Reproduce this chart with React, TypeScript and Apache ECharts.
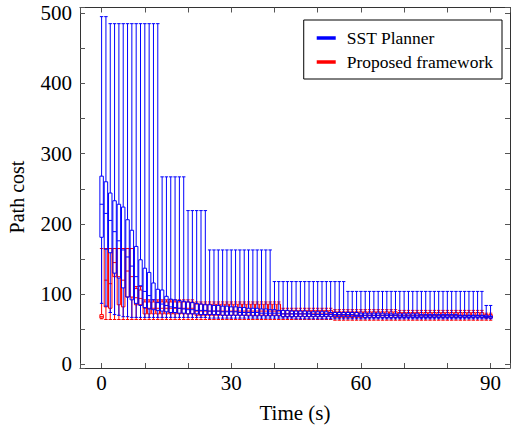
import React, { useEffect, useRef } from "react";
import * as echarts from "echarts";

const times = [
  0, 1, 2, 3, 4, 5, 6, 7, 8, 9, 10, 11, 12, 13, 14, 15, 16, 17, 18, 19, 20,
  21, 22, 23, 24, 25, 26, 27, 28, 29, 30, 31, 32, 33, 34, 35, 36, 37, 38, 39,
  40, 41, 42, 43, 44, 45, 46, 47, 48, 49, 50, 51, 52, 53, 54, 55, 56, 57, 58,
  59, 60, 61, 62, 63, 64, 65, 66, 67, 68, 69, 70, 71, 72, 73, 74, 75, 76, 77,
  78, 79, 80, 81, 82, 83, 84, 85, 86, 87, 88, 89, 90,
];

// SST Planner (blue)
const sstMax = [
  495, 495,
  485, 485, 485, 485, 485, 485, 485, 485, 485, 485, 485, 485,
  267, 267, 267, 267, 267, 267,
  219, 219, 219, 219, 219,
  163, 163, 163, 163, 163, 163, 163, 163, 163, 163, 163, 163, 163, 163, 163,
  118, 118, 118, 118, 118, 118, 118, 118, 118, 118, 118, 118, 118, 118, 118, 118, 118,
  104, 104, 104, 104, 104, 104, 104, 104, 104, 104, 104, 104, 104, 104, 104, 104,
  104, 104, 104, 104, 104, 104, 104, 104, 104, 104, 104, 104, 104, 104, 104, 104,
  84, 84,
];
const sstQ3 = [
  268, 260, 244, 233, 228, 224, 206, 191, 168, 149, 137, 131, 116, 107, 106,
  97, 93, 92, 91, 90, 89, 88, 87, 86, 85,
  85, 84, 84, 83, 83, 82, 82, 81, 81, 80, 80, 80, 79, 79, 78,
  78, 77, 77, 77, 76, 76, 76, 76, 75, 75, 75, 75, 75, 74, 74, 74, 74,
  74, 74, 74, 73, 73, 73, 73, 73, 73, 72, 72, 72, 72, 72, 72, 72, 72,
  71, 71, 71, 71, 71, 71, 71, 71, 71, 70, 70, 70, 70, 70, 70,
  70, 69,
];
const sstMedian = [
  228, 215, 205, 189, 176, 163, 153, 140, 125, 112, 104, 98, 92, 88, 86,
  84, 82, 81, 80, 79, 78, 78, 77, 77, 77,
  76, 76, 76, 75, 75, 75, 75, 74, 74, 74, 74, 74, 73, 73, 73,
  73, 73, 72, 72, 72, 72, 72, 72, 72, 71, 71, 71, 71, 71, 71, 71, 71,
  71, 71, 70, 70, 70, 70, 70, 70, 70, 70, 70, 70,
  69, 69, 69, 69, 69, 69, 69, 69, 69, 69, 69, 69, 69, 69, 69, 69, 69, 69, 69, 69,
  68, 68,
];
const sstQ1 = [
  181, 164, 159, 130, 123, 109, 96, 92, 87, 84, 81, 79, 78, 77, 76,
  75, 74, 74, 73, 73, 72, 72, 72, 71, 71,
  71, 71, 71, 70, 70, 70, 70, 70, 70, 69, 69, 69, 69, 69, 69,
  69, 69, 68, 68, 68, 68, 68, 68, 68, 68, 68, 68, 68, 68, 68, 68, 68,
  68, 68, 68, 68, 67, 67, 67, 67, 67, 67, 67, 67, 67, 67, 67, 67, 67, 67,
  67, 67, 67, 67, 67, 67, 67, 67, 67, 67, 67, 67, 67, 67,
  67, 66,
];
const sstMin = [
  87, 83, 74, 71, 70, 68, 68, 67, 67, 67, 67, 67, 67, 67, 67,
  67, 67, 67, 67, 67, 67, 67, 67, 67, 67,
  66, 66, 66, 66, 66, 66, 66, 66, 66, 66, 66, 66, 66, 66, 66,
  66, 66, 66, 66, 66, 65, 65, 65, 65, 65, 65, 65, 65, 65, 65, 65, 65,
  65, 65, 65, 65, 65, 65, 65, 65, 65, 65, 65, 65, 65, 65, 65, 65,
  65, 65, 65, 65, 65, 65, 65, 65, 65, 65, 65, 65, 65, 65, 65, 65,
  65, 65,
];

// Proposed framework (red)
const pfMax = [
  165, 165, 165, 165, 165, 165, 165, 165,
  111, 111,
  92, 92, 92, 92, 92, 92, 92, 92, 92, 92, 92, 92,
  89, 89, 89, 89, 89, 89, 89, 89, 89, 89, 89, 89, 89, 89, 89, 89, 89, 89, 89, 89,
  80, 80, 80, 80, 80, 80, 80, 80, 80, 80, 80, 80,
  78, 78, 78, 78, 78, 78, 78, 78, 78, 78, 78, 78, 78, 78, 78,
  77, 77, 77, 77, 77, 77, 77, 77, 77, 77, 77, 77, 77, 77, 77, 77, 77, 77, 77, 77,
  73, 73,
];
const pfQ3 = [
  71, 165, 165, 165, 165, 165, 165, 165,
  108, 106,
  89, 89, 89, 89, 89, 89, 89, 89, 89, 89, 89, 89,
  86, 86, 86, 86, 86, 86, 86, 86, 86, 86, 86, 86, 86, 86, 86, 86, 86, 86, 86, 86,
  77, 77, 77, 77, 77, 77, 77, 77, 77, 77, 77, 77,
  75, 75, 75, 75, 75, 75, 75, 75, 75, 75, 75, 75, 75, 75, 75,
  74, 74, 74, 74, 74, 74, 74, 74, 74, 74, 74, 74, 74, 74, 74, 74, 74, 74, 74, 74,
  71, 71,
];
const pfMedian = [
  68, 120, 115, 145, 125, 120, 133, 125,
  95, 94,
  80, 80, 80, 80, 80, 80, 80, 80, 80, 80, 80, 80,
  76, 76, 76, 76, 76, 76, 76, 76, 76, 76, 76, 76, 76, 76, 76, 76, 76, 76, 76, 76,
  72, 72, 72, 72, 72, 72, 72, 72, 72, 72, 72, 72,
  70, 70, 70, 70, 70, 70, 70, 70, 70, 70, 70, 70, 70, 70, 70,
  70, 70, 70, 70, 70, 70, 70, 70, 70, 70, 70, 70, 70, 70, 70, 70, 70, 70, 70, 70,
  68, 68,
];
const pfQ1 = [
  66, 82, 80, 125, 85, 82, 96, 96,
  85, 85,
  72, 72, 72, 72, 72, 72, 72, 72, 72, 72, 72, 72,
  70, 70, 70, 70, 70, 70, 70, 70, 70, 70, 70, 70, 70, 70, 70, 70, 70, 70, 70, 70,
  68, 68, 68, 68, 68, 68, 68, 68, 68, 68, 68, 68,
  67, 67, 67, 67, 67, 67, 67, 67, 67, 67, 67, 67, 67, 67, 67,
  67, 67, 67, 67, 67, 67, 67, 67, 67, 67, 67, 67, 67, 67, 67, 67, 67, 67, 67, 67,
  66, 66,
];
const pfMin = [
  65, 64, 64, 64, 64, 64, 64, 64,
  64, 64,
  64, 64, 64, 64, 64, 64, 64, 64, 64, 64, 64, 64,
  64, 64, 64, 64, 64, 64, 64, 64, 64, 64, 64, 64, 64, 64, 64, 64, 64, 64, 64, 64,
  64, 64, 64, 64, 64, 64, 64, 64, 64, 64, 64, 64,
  63, 63, 63, 63, 63, 63, 63, 63, 63, 63, 63, 63, 63, 63, 63,
  63, 63, 63, 63, 63, 63, 63, 63, 63, 63, 63, 63, 63, 63, 63, 63, 63, 63, 63, 63,
  63, 63,
];

const xTickLabels = [0, 30, 60, 90];
const yTickLabels = [0, 100, 200, 300, 400, 500];

const BLUE = "#0000ff";
const RED = "#ff0000";
const FONT = "'Liberation Serif', 'DejaVu Serif', 'Times New Roman', serif";
const BOX_W = 0.8;

function buildData(mn: number[], q1: number[], md: number[], q3: number[], mx: number[]) {
  return times.map((t, i) => [t, mn[i], q1[i], md[i], q3[i], mx[i]]);
}

function makeRenderItem(color: string) {
  return (params: any, api: any) => {
    const t = api.value(0);
    const pMin = api.coord([t, api.value(1)]);
    const pQ1 = api.coord([t, api.value(2)]);
    const pMed = api.coord([t, api.value(3)]);
    const pQ3 = api.coord([t, api.value(4)]);
    const pMax = api.coord([t, api.value(5)]);
    const half = api.size([BOX_W, 0])[0] / 2;
    const x = pMed[0];
    const style = { stroke: color, lineWidth: 1, fill: "none" };
    const ln = (x1: number, y1: number, x2: number, y2: number) => ({
      type: "line",
      shape: { x1, y1, x2, y2 },
      style,
    });
    return {
      type: "group",
      children: [
        ln(x, pMax[1], x, pQ3[1]),
        ln(x - half, pMax[1], x + half, pMax[1]),
        ln(x, pQ1[1], x, pMin[1]),
        ln(x - half, pMin[1], x + half, pMin[1]),
        {
          type: "rect",
          shape: { x: x - half, y: pQ3[1], width: 2 * half, height: pQ1[1] - pQ3[1] },
          style,
        },
        ln(x - half, pMed[1], x + half, pMed[1]),
      ],
    };
  };
}

export default function App() {
  const ref = useRef<HTMLDivElement>(null);
  useEffect(() => {
    if (!ref.current) return;
    const chart = echarts.init(ref.current, undefined, { renderer: "svg" });
    const axisLineStyle = { color: "#333", width: 1 };
    const tickStyle = { color: "#555", width: 1 };
    const xBase = {
      type: "value",
      min: -5,
      max: 94.5,
      splitNumber: 10,
      splitLine: { show: false },
      axisLine: { show: true, onZero: false, lineStyle: axisLineStyle },
      axisTick: { show: true, inside: true, length: 5, lineStyle: tickStyle },
    };
    const yBase = {
      type: "value",
      min: -5,
      max: 508,
      splitNumber: 10,
      splitLine: { show: false },
      axisLine: { show: true, onZero: false, lineStyle: axisLineStyle },
      axisTick: { show: true, inside: true, length: 5, lineStyle: tickStyle },
    };
    chart.setOption({
      animation: false,
      color: [BLUE, RED],
      textStyle: { fontFamily: FONT },
      grid: { left: 80, right: 1, top: 7.5, bottom: 62, containLabel: false },
      graphic: [
        {
          type: "text",
          x: 17,
          y: 197,
          rotation: Math.PI / 2,
          style: {
            text: "Path cost",
            fontFamily: FONT,
            fontSize: 20,
            fill: "#000",
            align: "center",
            verticalAlign: "middle",
          },
        },
      ],
      legend: {
        orient: "vertical",
        right: 11,
        top: 20,
        icon: "rect",
        itemWidth: 19,
        itemHeight: 3.5,
        itemGap: 6,
        padding: [9, 9, 8, 13],
        backgroundColor: "#fff",
        borderColor: "#000",
        borderWidth: 1,
        textStyle: { fontFamily: FONT, fontSize: 17.5, color: "#000", padding: [0, 0, 0, 6] },
        data: [
          { name: "SST Planner", itemStyle: { color: BLUE } },
          { name: "Proposed framework", itemStyle: { color: RED } },
        ],
      },
      xAxis: [
        {
          ...xBase,
          position: "bottom",
          name: "Time (s)",
          nameLocation: "middle",
          nameGap: 34,
          nameTextStyle: { fontFamily: FONT, fontSize: 21, color: "#000" },
          axisLabel: {
            fontFamily: FONT,
            fontSize: 21,
            color: "#000",
            margin: 4,
            formatter: (v: number) => (xTickLabels.indexOf(v) >= 0 ? String(v) : ""),
          },
        },
        { ...xBase, position: "top", axisLabel: { show: false } },
      ],
      yAxis: [
        {
          ...yBase,
          position: "left",
          axisLabel: {
            fontFamily: FONT,
            fontSize: 21,
            color: "#000",
            margin: 8,
            formatter: (v: number) => (yTickLabels.indexOf(v) >= 0 ? String(v) : ""),
          },
        },
        { ...yBase, position: "right", axisLabel: { show: false } },
      ],
      series: [
        {
          name: "Proposed framework",
          type: "custom",
          xAxisIndex: 0,
          yAxisIndex: 0,
          itemStyle: { color: RED },
          encode: { x: 0, y: [1, 2, 3, 4, 5] },
          renderItem: makeRenderItem(RED),
          data: buildData(pfMin, pfQ1, pfMedian, pfQ3, pfMax),
          z: 2,
          silent: true,
        },
        {
          name: "SST Planner",
          type: "custom",
          xAxisIndex: 0,
          yAxisIndex: 0,
          itemStyle: { color: BLUE },
          encode: { x: 0, y: [1, 2, 3, 4, 5] },
          renderItem: makeRenderItem(BLUE),
          data: buildData(sstMin, sstQ1, sstMedian, sstQ3, sstMax),
          z: 3,
          silent: true,
        },
      ],
    });
    return () => chart.dispose();
  }, []);
  return <div ref={ref} style={{ width: 513, height: 430, position: "absolute", left: 0, top: 0 }} />;
}
